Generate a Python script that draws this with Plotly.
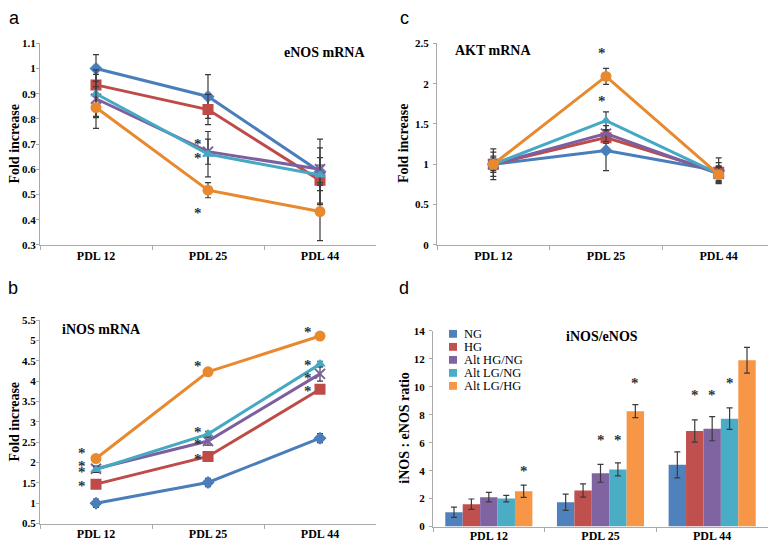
import plotly.graph_objects as go

# ---- data ----
PDL = ["PDL 12", "PDL 25", "PDL 44"]
GROUPS = ["NG", "HG", "Alt HG/NG", "Alt LG/NG", "Alt LG/HG"]

enos = {
    "NG": [1.0, 0.889, 0.59],
    "HG": [0.935, 0.837, 0.556],
    "Alt HG/NG": [0.88, 0.67, 0.60],
    "Alt LG/NG": [0.90, 0.66, 0.577],
    "Alt LG/HG": [0.845, 0.517, 0.432],
}
enos_err = {
    "NG": [0.055, 0.087, 0.13],
    "HG": [0.042, 0.06, 0.09],
    "Alt HG/NG": [0.07, 0.05, 0.085],
    "Alt LG/NG": [0.095, 0.09, 0.04],
    "Alt LG/HG": [0.083, 0.03, 0.115],
}

akt = {
    "NG": [1.0, 1.17, 0.92],
    "HG": [1.0, 1.33, 0.90],
    "Alt HG/NG": [1.0, 1.38, 0.88],
    "Alt LG/NG": [1.0, 1.54, 0.88],
    "Alt LG/HG": [1.0, 2.09, 0.87],
}
akt_err = {
    "NG": [0.19, 0.25, 0.16],
    "HG": [0.15, 0.07, 0.12],
    "Alt HG/NG": [0.1, 0.1, 0.1],
    "Alt LG/NG": [0.08, 0.11, 0.08],
    "Alt LG/HG": [0.05, 0.1, 0.1],
}

inos = {
    "NG": [1.0, 1.51, 2.6],
    "HG": [1.47, 2.15, 3.8],
    "Alt HG/NG": [1.85, 2.53, 4.18],
    "Alt LG/NG": [1.83, 2.7, 4.42],
    "Alt LG/HG": [2.1, 4.23, 5.11],
}
inos_err = {
    "NG": [0.1, 0.1, 0.11],
    "HG": [0.07, 0.05, 0.07],
    "Alt HG/NG": [0.07, 0.1, 0.18],
    "Alt LG/NG": [0.07, 0.07, 0.07],
    "Alt LG/HG": [0.07, 0.08, 0.03],
}

ratio = {
    "NG": [1.02, 1.74, 4.42],
    "HG": [1.6, 2.58, 6.84],
    "Alt HG/NG": [2.1, 3.81, 7.0],
    "Alt LG/NG": [2.0, 4.09, 7.72],
    "Alt LG/HG": [2.53, 8.26, 11.9],
}
ratio_err = {
    "NG": [0.37, 0.58, 0.93],
    "HG": [0.37, 0.48, 0.8],
    "Alt HG/NG": [0.34, 0.64, 0.86],
    "Alt LG/NG": [0.23, 0.47, 0.77],
    "Alt LG/HG": [0.44, 0.47, 0.92],
}

# significance stars: (category, y value, x shift px)
stars_a = [("PDL 25", 0.712, -10), ("PDL 25", 0.655, -10), ("PDL 25", 0.44, -10)]
stars_c = [("PDL 25", 2.42, -4), ("PDL 25", 1.82, -4)]
stars_b = [("PDL 12", 2.3, -14), ("PDL 12", 2.0, -14), ("PDL 12", 1.83, -14), ("PDL 12", 1.5, -14),
           ("PDL 25", 4.45, -10), ("PDL 25", 2.82, -10), ("PDL 25", 2.52, -10), ("PDL 25", 2.17, -10),
           ("PDL 44", 5.28, -12), ("PDL 44", 4.47, -12), ("PDL 44", 4.14, -12), ("PDL 44", 3.84, -12)]
# bar stars: (category index, group index, y)
stars_d = [(0, 4, 4.2), (1, 2, 6.4), (1, 3, 6.4), (1, 4, 10.5),
           (2, 1, 9.6), (2, 2, 9.6), (2, 3, 10.5), (2, 4, 14.7)]

BAR_COLORS = {"NG": "#4F81BD", "HG": "#C0504D", "Alt HG/NG": "#8064A2",
              "Alt LG/NG": "#4BACC6", "Alt LG/HG": "#F79646"}
LINE_COLORS = {"NG": "#4A7EBB", "HG": "#BE4B48", "Alt HG/NG": "#7D5FA0",
               "Alt LG/NG": "#46A9C3", "Alt LG/HG": "#E8892F"}
SYMBOLS = {"NG": "diamond", "HG": "square", "Alt HG/NG": "x-thin",
           "Alt LG/NG": "triangle-up", "Alt LG/HG": "circle"}

W, H = 776, 549
OFF = 8  # the page body margin shifts the figure by 8px
SERIF = "Liberation Serif, Times New Roman, serif"


def px(x):
    return (x - OFF) / W


def py(y):
    return 1 - (y - OFF) / H


fig = go.Figure()


def add_lines(data, err, xa, ya):
    for g in GROUPS:
        sym = SYMBOLS[g]
        fig.add_trace(go.Scatter(
            x=PDL, y=data[g], xaxis=xa, yaxis=ya, mode="lines+markers",
            line=dict(color=LINE_COLORS[g], width=3),
            marker=dict(symbol=sym, color=LINE_COLORS[g],
                        size=11 if sym in ("square", "circle") else 10,
                        line=dict(color=LINE_COLORS[g], width=2 if sym == "x-thin" else 0)),
            error_y=dict(type="data", array=err[g], color="#3a3a3a", thickness=1.2, width=3),
            showlegend=False, name=g,
        ))


add_lines(enos, enos_err, "x", "y")
add_lines(akt, akt_err, "x2", "y2")
add_lines(inos, inos_err, "x3", "y3")

for g in GROUPS:
    fig.add_trace(go.Bar(
        x=PDL, y=ratio[g], xaxis="x4", yaxis="y4", name=g, showlegend=False,
        marker=dict(color=BAR_COLORS[g], line=dict(width=0)),
        error_y=dict(type="data", array=ratio_err[g], color="#3a3a3a", thickness=1.2, width=3),
    ))


tick_font = dict(family=SERIF, size=11, color="black", weight="bold")
title_font = dict(family=SERIF, size=14, color="black", weight="bold")


def xaxis(x0, x1, anchor, standoff=0):
    return dict(domain=[px(x0), px(x1)], anchor=anchor, type="category", range=[-0.5, 2.5],
                showline=True, linecolor="#AAAAAA", linewidth=1, ticks="outside",
                tickson="boundaries", ticklen=4, tickcolor="#AAAAAA",
                ticklabelstandoff=standoff,
                tickfont=dict(family=SERIF, size=12, color="black", weight="bold"),
                showgrid=False, zeroline=False)


def yaxis(top, bottom, anchor, rng, dtick, standoff=0):
    return dict(domain=[py(bottom), py(top)], anchor=anchor, range=rng, dtick=dtick, tick0=rng[0],
                showline=True, linecolor="#AAAAAA", linewidth=1, ticks="outside",
                ticklen=3, tickcolor="#AAAAAA", tickfont=tick_font,
                ticklabelstandoff=standoff,
                showgrid=False, zeroline=False)


fig.update_layout(
    width=W, height=H, margin=dict(l=0, r=0, t=0, b=0),
    paper_bgcolor="white", plot_bgcolor="white",
    barmode="group", bargap=0.22, bargroupgap=0,
    showlegend=False,
    xaxis=xaxis(40, 376, "y"),
    yaxis=yaxis(38, 244, "x", [0.3, 1.1], 0.1, -2),
    xaxis2=xaxis(437, 775, "y2"),
    yaxis2=yaxis(38, 244, "x2", [0, 2.5], 0.5, 2),
    xaxis3=xaxis(40, 376, "y3", -1),
    yaxis3=yaxis(321, 529, "x3", [0.5, 5.5], 0.5, -2),
    xaxis4=xaxis(433, 768, "y4", -2),
    yaxis4=yaxis(332, 532, "x4", [0, 14], 2, 2),
)

ann = []
shapes = []
star_font = dict(family=SERIF, size=15, color="#333333", weight="bold")
for ax, stars in (("", stars_a), ("2", stars_c), ("3", stars_b)):
    for cat, yv, sh in stars:
        ann.append(dict(x=cat, y=yv, xref="x" + ax, yref="y" + ax, text="*",
                        showarrow=False, xshift=sh, yshift=-3, font=star_font))

# bar star positions: offset within a group in category units
group_w = 1 - 0.22
for ci, gi, yv in stars_d:
    xoff = -group_w / 2 + group_w / len(GROUPS) * (gi + 0.5)
    ann.append(dict(x=ci + xoff, y=yv, xref="x4", yref="y4", text="*",
                    showarrow=False, yshift=-3, font=star_font))

# y-axis titles (rotated)
for txt, x, y in (("Fold increase", 14.5, 141), ("Fold increase", 403, 141),
                  ("Fold increase", 14.5, 425), ("iNOS : eNOS ratio", 405, 431)):
    ann.append(dict(x=px(x), y=py(y), xref="paper", yref="paper", text=txt,
                    textangle=-90, xanchor="center", yanchor="middle", showarrow=False,
                    borderpad=0, font=title_font))

# panel titles
for txt, x, y in (("eNOS mRNA", 324, 47), ("AKT mRNA", 493, 45),
                  ("iNOS mRNA", 101, 331), ("iNOS/eNOS", 602, 338)):
    ann.append(dict(x=px(x), y=py(y), xref="paper", yref="paper", text=txt,
                    xanchor="center", yanchor="middle", showarrow=False,
                    font=dict(family=SERIF, size=14, color="black", weight="bold")))

# panel letters
for txt, x, y in (("a", 14, 12), ("c", 404, 12), ("b", 13, 288), ("d", 404, 288)):
    ann.append(dict(x=px(x), y=py(y), xref="paper", yref="paper", text=txt,
                    xanchor="center", yanchor="middle", showarrow=False, borderpad=0,
                    font=dict(family="Liberation Sans", size=18, color="black")))

# legend for panel d (compact rows like the source figure)
for i, g in enumerate(GROUPS):
    yc = 335 + i * 13.3
    shapes.append(dict(type="rect", xref="paper", yref="paper",
                       x0=px(449), x1=px(457), y0=py(yc + 4), y1=py(yc - 4),
                       fillcolor=BAR_COLORS[g], line=dict(width=0)))
    ann.append(dict(x=px(462), y=py(yc), xref="paper", yref="paper", text=g,
                    xanchor="left", yanchor="middle", showarrow=False,
                    font=dict(family=SERIF, size=12.5, color="black")))

fig.update_layout(annotations=ann, shapes=shapes)

fig.write_html("out.html")
